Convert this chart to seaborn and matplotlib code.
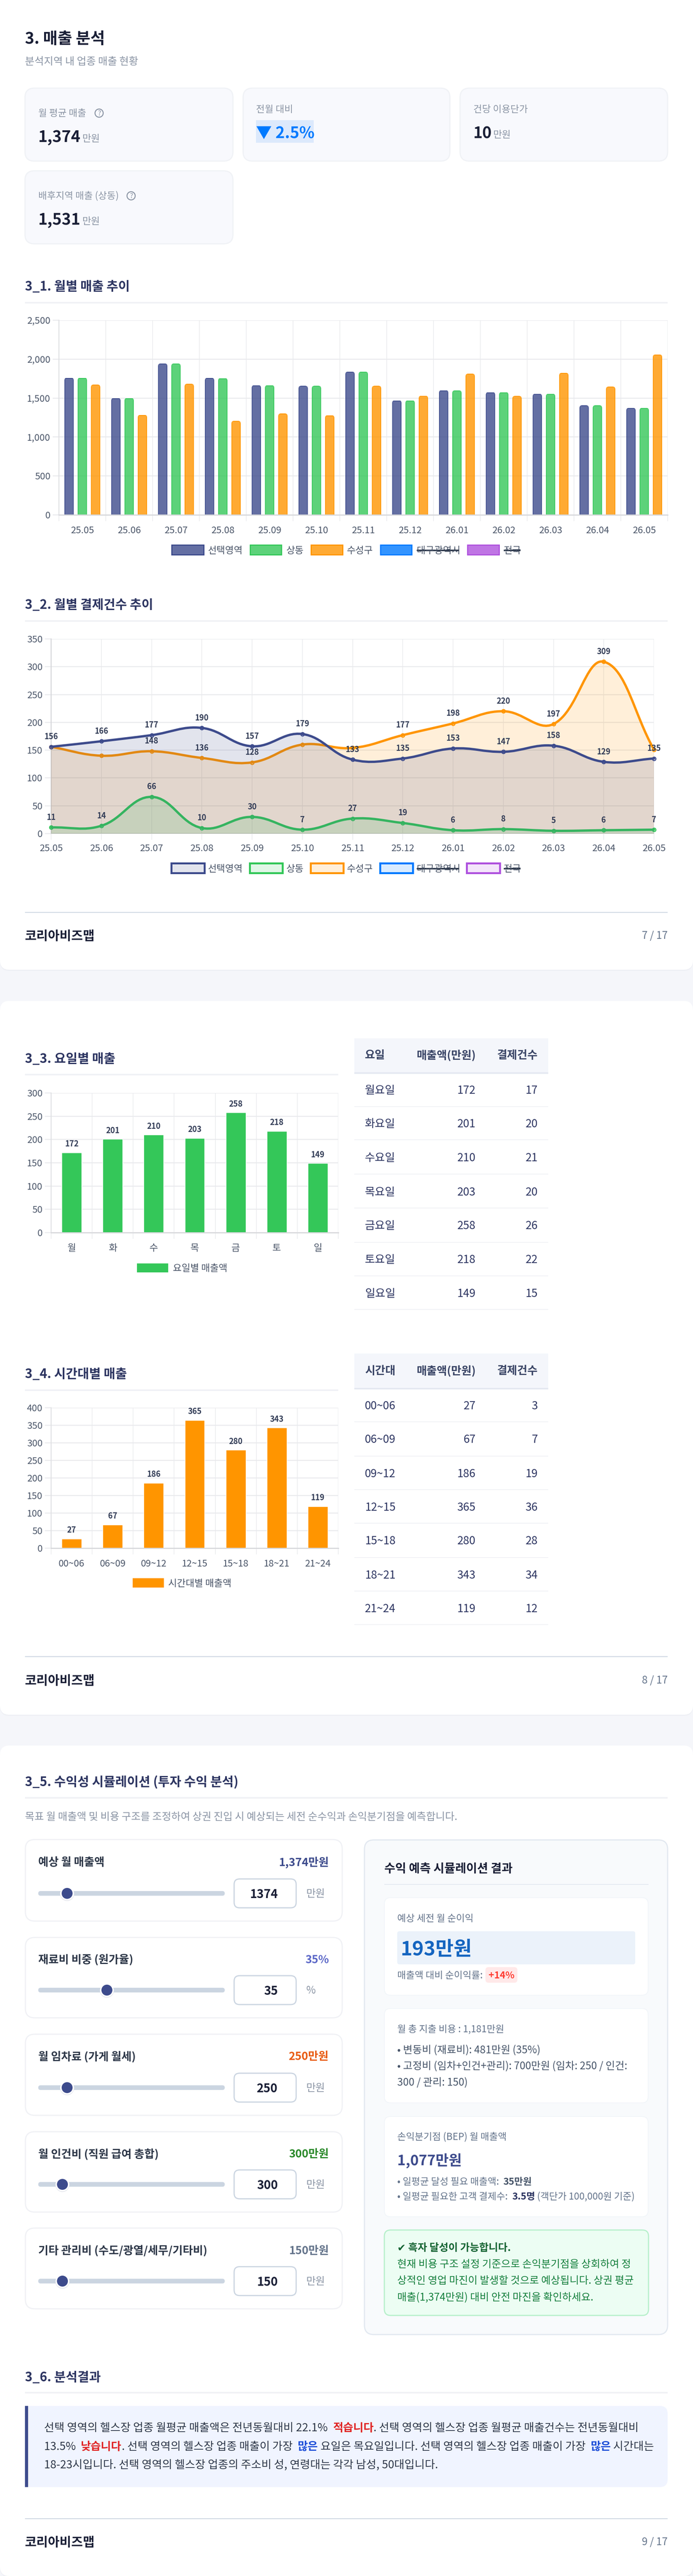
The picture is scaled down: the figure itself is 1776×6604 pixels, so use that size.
import numpy as np
import pandas as pd
import seaborn as sns
import matplotlib
matplotlib.use("Agg")
import matplotlib.pyplot as plt
from matplotlib.colors import to_rgba
from matplotlib.patches import FancyBboxPatch, PathPatch, Rectangle, Circle
from matplotlib.path import Path

# Chart data
months = ["25.05", "25.06", "25.07", "25.08", "25.09", "25.10", "25.11", "25.12", "26.01", "26.02", "26.03", "26.04", "26.05"]
sales_selected = [1756, 1495, 1938, 1754, 1659, 1651, 1833, 1465, 1595, 1570, 1549, 1401, 1368]
sales_sangdong = [1756, 1495, 1938, 1751, 1659, 1651, 1833, 1465, 1592, 1570, 1549, 1401, 1368]
sales_suseong = [1667, 1278, 1677, 1201, 1296, 1273, 1651, 1524, 1807, 1521, 1818, 1641, 2053]
sales_ticks = [0, 500, 1000, 1500, 2000, 2500]

count_selected = [156, 166, 177, 190, 157, 179, 133, 135, 153, 147, 158, 129, 135]
count_sangdong = [11, 14, 66, 10, 30, 7, 27, 19, 6, 8, 5, 6, 7]
count_suseong = [156, 140, 148, 136, 128, 160, 154, 177, 198, 220, 197, 309, 151]
suseong_hidden_labels = [0, 1, 5, 6, 12]
count_ticks = [0, 50, 100, 150, 200, 250, 300, 350]

weekdays = ["월", "화", "수", "목", "금", "토", "일"]
weekday_names = ["월요일", "화요일", "수요일", "목요일", "금요일", "토요일", "일요일"]
weekday_sales = [172, 201, 210, 203, 258, 218, 149]
weekday_counts = [17, 20, 21, 20, 26, 22, 15]
weekday_ticks = [0, 50, 100, 150, 200, 250, 300]

hours = ["00~06", "06~09", "09~12", "12~15", "15~18", "18~21", "21~24"]
hour_sales = [27, 67, 186, 365, 280, 343, 119]
hour_counts = [3, 7, 19, 36, 28, 34, 12]
hour_ticks = [0, 50, 100, 150, 200, 250, 300, 350, 400]

legend_names = ["선택영역", "상동", "수성구", "대구광역시", "전국"]

NAVY = "#3D4B8C"
GREEN = "#34C759"
ORANGE = "#FF9500"
BLUE = "#007AFF"
PURPLE = "#AF52DE"
GRID = "#E9EAED"
TICK = "#4A5568"
DARK = "#1A1F36"
HEAD = "#2D3561"
GRAY = "#8B95A5"
LABEL = "#333D57"

W, H = 1776, 6604
sns.set_theme(style="white")
plt.rcParams["font.family"] = ["Noto Sans CJK KR", "DejaVu Sans"]


def pt(px):
    return px * 0.72


fig = plt.figure(figsize=(W / 100, H / 100), dpi=100, facecolor="#F5F6FA")
page = fig.add_axes([0, 0, 1, 1])
page.set_xlim(0, W)
page.set_ylim(H, 0)
page.axis("off")


def box(x0, y0, x1, y1, fc="white", ec="none", lw=0, r=24, z=1):
    p = FancyBboxPatch((x0, y0), x1 - x0, y1 - y0, boxstyle=f"round,pad=0,rounding_size={r}",
                       fc=fc, ec=ec, lw=pt(lw), zorder=z)
    page.add_patch(p)


def rule(x0, x1, y, color, lw):
    page.add_patch(Rectangle((x0, y - lw / 2), x1 - x0, lw, fc=color, ec="none", zorder=2))


def txt(x, y, s, size, color=DARK, weight="normal", ha="left"):
    return page.text(x, y + size * 0.1, s, fontsize=pt(size) * 1.015, color=color, fontweight=weight, ha=ha, va="center", zorder=5)


def runs(x, y, parts, size):
    # text pieces of different colour on one line
    rend = fig.canvas.get_renderer()
    for s, color, weight in parts:
        t = txt(x, y, s, size, color, weight)
        x = page.transData.inverted().transform(t.get_window_extent(rend).get_points())[1][0]
        # trailing spaces are not in the extent
        x += (len(s) - len(s.rstrip(" "))) * size * 0.224


def section(y_text, y_rule, s, x1=1711):
    txt(64, y_text, s, 32, HEAD, "bold")
    rule(64, x1, y_rule, "#F0F1F5", 4)


def footer(y_rule, y_text, pg):
    rule(64, 1711, y_rule, "#CBD5E1", 2.5)
    txt(64, y_text, "코리아비즈맵", 32, DARK, "bold")
    txt(1711, y_text, pg, 26, "#64748B", ha="right")


def legend_row(y, h, swatches, texts, colors, alpha, lw):
    for i, name in enumerate(legend_names):
        x0, x1 = swatches[i]
        page.add_patch(Rectangle((x0, y - h / 2), x1 - x0, h, fc=to_rgba(colors[i], alpha), ec=colors[i], lw=pt(lw), zorder=3))
        txt(texts[i], y, name, 24, TICK)
        if i >= 3:
            wd = {3: 109, 4: 43}[i]
            rule(texts[i], texts[i] + wd, y + 1, "#2F3A4D", 4)


def help_icon(x, y):
    page.add_patch(Circle((x, y), 10.5, fc="none", ec=GRAY, lw=pt(2.5), zorder=5))
    txt(x, y - 1, "?", 17, GRAY, ha="center")


def chart_axes(x0, y0, x1, y1):
    ax = fig.add_axes([x0 / W, 1 - y1 / H, (x1 - x0) / W, (y1 - y0) / H])
    ax.patch.set_alpha(0)
    return ax


def style_axes(ax, yticks, ylabels=None):
    ax.set_ylim(yticks[0], yticks[-1])
    ax.set_yticks(yticks, ylabels if ylabels else [str(v) for v in yticks])
    ax.set_xlabel("")
    ax.set_ylabel("")
    ax.grid(axis="y", which="major", color=GRID, lw=pt(2.5))
    ax.set_axisbelow(True)
    for s in ["top", "right"]:
        ax.spines[s].set_visible(False)
    ax.spines["left"].set_color("#D5D6DA")
    ax.spines["left"].set_linewidth(pt(2.5))
    ax.spines["bottom"].set_color("#D8D9DC")
    ax.spines["bottom"].set_linewidth(pt(3))
    ax.tick_params(axis="y", length=pt(16), width=pt(2.5), color=GRID, labelsize=pt(24), labelcolor=TICK, pad=pt(6), left=True)


def band_axis(ax, labels):
    n = len(labels)
    ax.set_xlim(-0.5, n - 0.5)
    ax.set_xticks(range(n), labels)
    ax.set_xticks(np.arange(-0.5, n), minor=True)
    ax.grid(axis="x", which="minor", color="#EDEEF0", lw=pt(2))
    ax.spines["left"].set_color("#E0E1E4")
    ax.tick_params(axis="x", which="major", length=0, labelsize=pt(24), labelcolor=TICK, pad=pt(29))
    ax.tick_params(axis="x", which="minor", length=pt(16), width=pt(2), color="#EDEEF0", bottom=True)


def round_tops(ax, r_px):
    # rounded bar tops, by clipping each bar
    inv = ax.transData.inverted()
    o = inv.transform((0, 0))
    dx = inv.transform((r_px, 0))[0] - o[0]
    dy = inv.transform((0, r_px))[1] - o[1]
    for p in ax.patches:
        x, y, w, h = p.get_x(), p.get_y(), p.get_width(), p.get_height()
        e = 0.02 * w
        x0, x1, top = x - e, x + w + e, y + h + dy * 0.2
        verts = [(x0, y - dy * 2), (x0, top - dy), (x0, top), (x0 + dx, top), (x1 - dx, top), (x1, top), (x1, top - dy), (x1, y - dy * 2), (x0, y - dy * 2)]
        codes = [Path.MOVETO, Path.LINETO, Path.CURVE3, Path.CURVE3, Path.LINETO, Path.CURVE3, Path.CURVE3, Path.LINETO, Path.CLOSEPOLY]
        p.set_clip_path(Path(verts, codes), ax.transData)


def bar_chart(box_px, labels, values, color, yticks, lab_off):
    ax = chart_axes(*box_px)
    sns.barplot(x=labels, y=values, color=color, saturation=1, width=0.485, ax=ax, order=labels)
    style_axes(ax, yticks)
    band_axis(ax, labels)
    for i, v in enumerate(values):
        ax.annotate(str(v), (i, v), xytext=(0, pt(lab_off)), textcoords="offset points", ha="center", va="center",
                    fontsize=pt(20), fontweight="bold", color=LABEL)
    return ax


def smooth_path(xs, ys, sx, sy, close=False):
    # bezier through the points, tension 0.4, worked out in pixel space
    pts = np.column_stack([np.array(xs) * sx, np.array(ys) * sy])
    n = len(pts)
    c_in, c_out = np.zeros_like(pts), np.zeros_like(pts)
    for i in range(n):
        prev = pts[max(i - 1, 0)]
        nxt = pts[min(i + 1, n - 1)]
        d01, d12 = np.hypot(*(pts[i] - prev)), np.hypot(*(nxt - pts[i]))
        s = d01 + d12
        c_in[i] = pts[i] - 0.4 * d01 / s * (nxt - prev)
        c_out[i] = pts[i] + 0.4 * d12 / s * (nxt - prev)
    verts = [pts[0]]
    codes = [Path.MOVETO]
    for i in range(n - 1):
        verts += [c_out[i], c_in[i + 1], pts[i + 1]]
        codes += [Path.CURVE4] * 3
    if close:
        verts += [(pts[-1][0], 0), (pts[0][0], 0), pts[0]]
        codes += [Path.LINETO, Path.LINETO, Path.CLOSEPOLY]
    return Path(np.array(verts) / [sx, sy], codes)


# ---------- page backgrounds ----------
for y0, y1 in [(-60, 2486), (2566, 4396), (4475, 6604)]:
    box(0, y0 + 2, W, y1 + 3, fc="#EEF0F5", r=24, z=0)
    box(0, y0, W, y1, fc="white", r=24, z=0.5)

# ---------- page 1 ----------
txt(64, 97, "3. 매출 분석", 40, DARK, "bold")
txt(64, 156, "분석지역 내 업종 매출 현황", 26, GRAY)

cards = [(64, 226, 597, 413), (623, 226, 1153, 413), (1179, 226, 1711, 413), (64, 438, 597, 625)]
for c in cards:
    box(*c, fc="#F8F9FD", ec="#F0F2F6", lw=3)

txt(98, 289, "월 평균 매출", 24, GRAY)
help_icon(254, 290)
txt(98, 349, "1,374", 40, DARK, "bold")
txt(211, 354, "만원", 24.5, GRAY)

page.add_patch(Rectangle((656, 308), 148, 58, fc="#DCE9FC", ec="none", zorder=2))
txt(656, 339, "▼ 2.5%", 40, BLUE, "bold")
txt(656, 279, "전월 대비", 24, GRAY)

txt(1213, 279, "건당 이용단가", 24, GRAY)
txt(1213, 339, "10", 40, DARK, "bold")
txt(1264, 344, "만원", 24.5, GRAY)

txt(98, 501, "배후지역 매출 (상동)", 24, GRAY)
help_icon(336, 502)
txt(98, 561, "1,531", 40, DARK, "bold")
txt(211, 566, "만원", 24.5, GRAY)

# 3_1 monthly sales
section(732, 776, "3_1. 월별 매출 추이")
sales_df = pd.DataFrame({
    "month": months * 3,
    "area": ["선택영역"] * 13 + ["상동"] * 13 + ["수성구"] * 13,
    "sales": sales_selected + sales_sangdong + sales_suseong,
})
ax1 = chart_axes(151, 821, 1711, 1320)
pal = {"선택영역": NAVY, "상동": GREEN, "수성구": ORANGE}
sns.barplot(data=sales_df, x="month", y="sales", hue="area", palette=pal, saturation=1,
            width=0.85, gap=0.33, legend=False, ax=ax1)
style_axes(ax1, sales_ticks, [f"{v:,}" for v in sales_ticks])
band_axis(ax1, months)
for cont, col in zip(ax1.containers, [NAVY, GREEN, ORANGE]):
    for p in cont:
        p.set_facecolor(to_rgba(col, 0.8))
        p.set_edgecolor(col)
        p.set_linewidth(pt(2))
round_tops(ax1, 7)
legend_row(1410, 25, [(440, 522), (641, 721), (797, 878), (975, 1055), (1198, 1279)],
           [533, 734, 889, 1068, 1291], [NAVY, GREEN, ORANGE, BLUE, PURPLE], 0.8, 3)

# 3_2 monthly payment counts
section(1548, 1592, "3_2. 월별 결제건수 추이")
ax2 = chart_axes(131, 1638, 1676, 2137)
style_axes(ax2, count_ticks)
ax2.set_xlim(0, 12)
ax2.set_xticks(range(13), months)
ax2.grid(axis="x", which="major", color="#EDEEF0", lw=pt(2))
ax2.tick_params(axis="x", length=pt(16), width=pt(2), color="#EDEEF0", labelsize=pt(24), labelcolor=TICK, pad=pt(11), bottom=True)
ax2.spines["bottom"].set_color("#DADBDE")
ax2.spines["bottom"].set_linewidth(pt(2))
idx = list(range(13))
sx, sy = 1545 / 12, 499 / 350
for vals, col, z in [(count_suseong, ORANGE, 3), (count_sangdong, GREEN, 4), (count_selected, NAVY, 5)]:
    ax2.add_patch(PathPatch(smooth_path(idx, vals, sx, sy, close=True), fc=to_rgba(col, 0.15), ec="none", zorder=z))
    ax2.add_patch(PathPatch(smooth_path(idx, vals, sx, sy), fc="none", ec=col, lw=pt(6), zorder=z, capstyle="round", clip_on=False))
    sns.scatterplot(x=idx, y=vals, s=42, color=to_rgba(col, 0.15), edgecolor=col, linewidth=pt(2.5), clip_on=False, zorder=z, ax=ax2, legend=False)
ax2.set_ylim(0, 350)
ax2.set_xlim(0, 12)
labels2 = [(i, v) for i, v in enumerate(count_suseong) if i not in suseong_hidden_labels]
labels2 += list(enumerate(count_selected)) + list(enumerate(count_sangdong))
for i, v in labels2:
    ax2.annotate(str(v), (i, v), xytext=(0, pt(26)), textcoords="offset points", ha="center", va="center",
                 fontsize=pt(20), fontweight="bold", color=LABEL, zorder=8, annotation_clip=False)
legend_row(2226, 25, [(439, 524), (640, 724), (796, 880), (974, 1058), (1196, 1281)],
           [533, 734, 889, 1068, 1291], [NAVY, GREEN, ORANGE, BLUE, PURPLE], 0.15, 5)
footer(2339, 2397, "7 / 17")


# ---------- page 2 ----------
def data_table(header_top, header_bot, header_y, head0, first_col, second, third, text_ys, line_ys):
    page.add_patch(Rectangle((908, header_top), 497, header_bot - header_top, fc="#F4F6FB", ec="none", zorder=2))
    rule(908, 1405, header_bot, "#E4E8F1", 4)
    txt(935, header_y, head0, 28, "#3A4566", "bold")
    txt(1219, header_y, "매출액(만원)", 28, "#3A4566", "bold", ha="right")
    txt(1378, header_y, "결제건수", 28, "#3A4566", "bold", ha="right")
    for i in range(7):
        txt(935, text_ys[i], first_col[i], 28, HEAD)
        txt(1219, text_ys[i], str(second[i]), 28, HEAD, ha="right")
        txt(1378, text_ys[i], str(third[i]), 28, HEAD, ha="right")
        rule(908, 1405, line_ys[i], "#F0F1F5", 2.5)


section(2712, 2755, "3_3. 요일별 매출", x1=867)
ax3 = bar_chart((131, 2802, 867, 3160), weekdays, weekday_sales, GREEN, weekday_ticks, 22)
page.add_patch(Rectangle((351, 3239), 80, 23, fc=GREEN, ec="none", zorder=3))
txt(443, 3250, "요일별 매출액", 24, TICK)
data_table(2662, 2751, 2703, "요일", weekday_names, weekday_sales, weekday_counts,
           [2793, 2879, 2966, 3054, 3140, 3227, 3314], [2837, 2922, 3010, 3097, 3185, 3271, 3357])

section(3520, 3564, "3_4. 시간대별 매출", x1=867)
ax4 = bar_chart((131, 3609, 867, 3969), hours, hour_sales, ORANGE, hour_ticks, 22)
page.add_patch(Rectangle((340, 4046), 80, 24, fc=ORANGE, ec="none", zorder=3))
txt(431, 4058, "시간대별 매출액", 24, TICK)
data_table(3470, 3560, 3512, "시간대", hours, hour_sales, hour_counts,
           [3602, 3688, 3776, 3862, 3948, 4036, 4122], [3645, 3733, 3819, 3905, 3993, 4079, 4165])
footer(4247, 4306, "8 / 17")

# ---------- page 3 ----------
section(4566, 4609, "3_5. 수익성 시뮬레이션 (투자 수익 분석)")
txt(64, 4656, "목표 월 매출액 및 비용 구조를 조정하여 상권 진입 시 예상되는 세전 순수익과 손익분기점을 예측합니다.", 26, GRAY)

sliders = [
    (4716, 4925, 4772, 4854, 172, "예상 월 매출액", "1,374만원", NAVY, "1374", "만원"),
    (4967, 5173, 5022, 5102, 274, "재료비 비중 (원가율)", "35%", "#5B67C7", "35", "%"),
    (5215, 5423, 5270, 5352, 172, "월 임차료 (가게 월세)", "250만원", "#E8590C", "250", "만원"),
    (5465, 5671, 5520, 5600, 160, "월 인건비 (직원 급여 총합)", "300만원", "#2B8A2B", "300", "만원"),
    (5712, 5919, 5768, 5848, 160, "기타 관리비 (수도/광열/세무/기타비)", "150만원", "#64748B", "150", "만원"),
]
for top, bot, y_lab, y_sl, thumb, name, val, col, num, unit in sliders:
    box(65, top, 877, bot, fc="white", ec="#F0F1F5", lw=3)
    txt(98, y_lab, name, 28, "#2D3748", "bold")
    txt(843, y_lab, val, 28, col, "bold", ha="right")
    box(98, y_sl - 6, 576, y_sl + 6, fc="#CBD5E1", r=6, z=2)
    page.add_patch(Circle((thumb, y_sl + 1.5), 18, fc="#E6E8EE", ec="none", zorder=3))
    page.add_patch(Circle((thumb, y_sl), 17.5, fc="white", ec="none", zorder=3))
    page.add_patch(Circle((thumb, y_sl), 14, fc=NAVY, ec="none", zorder=4))
    box(600, y_sl - 37, 759, y_sl + 37, fc="white", ec="#CBD5E1", lw=3, r=14, z=2)
    txt(712, y_sl, num, 30, DARK, "bold", ha="right")
    txt(785, y_sl - 1, unit, 26, GRAY)

# result panel
box(934, 4717, 1711, 5985, fc="#F8FAFC", ec="#E2E8F0", lw=3)
txt(985, 4788, "수익 예측 시뮬레이션 결과", 30, DARK, "bold")
rule(985, 1662, 4831, "#E2E8F0", 2)

box(985, 4865, 1661, 5115, fc="white", ec="#F1F5F9", lw=2, r=16, z=2)
txt(1018, 4917, "예상 세전 월 순이익", 24, "#64748B")
box(1018, 4951, 1628, 5036, fc="#EBF2FA", r=6, z=3)
txt(1027, 4994, "193만원", 50, "#1565C0", "bold")
txt(1018, 5063, "매출액 대비 순이익률:", 24, "#64748B")
box(1244, 5043, 1326, 5083, fc="#FFE9E9", r=8, z=3)
txt(1285, 5063, "+14%", 24, "#FF3B30", "bold", ha="center")

box(985, 5149, 1661, 5391, fc="white", ec="#F1F5F9", lw=2, r=16, z=2)
txt(1018, 5201, "월 총 지출 비용 : 1,181만원", 24, "#64748B")
txt(1018, 5253, "• 변동비 (재료비): 481만원 (35%)", 26, "#475569")
txt(1018, 5294, "• 고정비 (임차+인건+관리): 700만원 (임차: 250 / 인건:", 26, "#475569")
txt(1018, 5336, "300 / 관리: 150)", 26, "#475569")

box(985, 5426, 1661, 5683, fc="white", ec="#F1F5F9", lw=2, r=16, z=2)
txt(1018, 5477, "손익분기점 (BEP) 월 매출액", 24, "#64748B")
txt(1018, 5536, "1,077만원", 36, NAVY, "bold")
runs(1018, 5592, [("• 일평균 달성 필요 매출액: ", "#64748B", "normal"), ("35만원", "#475569", "bold")], 24)
runs(1018, 5630, [("• 일평균 필요한 고객 결제수: ", "#64748B", "normal"), ("3.5명", HEAD, "bold"),
                  (" (객단가 100,000원 기준)", "#64748B", "normal")], 24)

box(985, 5717, 1662, 5936, fc="#ECFDF3", ec="#B7F0CB", lw=3, r=16, z=2)
txt(1018, 5761, "✔ 흑자 달성이 가능합니다.", 26, "#166534", "bold")
txt(1018, 5803, "현재 비용 구조 설정 기준으로 손익분기점을 상회하여 정", 26, "#15803D")
txt(1018, 5845, "상적인 영업 마진이 발생할 것으로 예상됩니다. 상권 평균", 26, "#15803D")
txt(1018, 5887, "매출(1,374만원) 대비 안전 마진을 확인하세요.", 26, "#15803D")

# 3_6 analysis
section(6092, 6134, "3_6. 분석결과")
box(64, 6168, 1711, 6376, fc="#F0F4FF", r=20)
page.add_patch(Rectangle((64, 6168), 30, 208, fc="#F0F4FF", ec="none", zorder=1.5))
page.add_patch(Rectangle((64, 6168), 8, 208, fc=NAVY, ec="none", zorder=2))
BODY = "#2D3748"
RED = "#E02424"
INK = "#1D4ED8"
runs(113, 6222, [("선택 영역의 헬스장 업종 월평균 매출액은 전년동월대비 22.1% ", BODY, "normal"), ("적습니다", RED, "bold"),
                 (". 선택 영역의 헬스장 업종 월평균 매출건수는 전년동월대비", BODY, "normal")], 28)
runs(113, 6270, [("13.5% ", BODY, "normal"), ("낮습니다", RED, "bold"), (". 선택 영역의 헬스장 업종 매출이 가장 ", BODY, "normal"),
                 ("많은", INK, "bold"), (" 요일은 목요일입니다. 선택 영역의 헬스장 업종 매출이 가장 ", BODY, "normal"),
                 ("많은", INK, "bold"), (" 시간대는", BODY, "normal")], 28)
runs(113, 6318, [("18-23시입니다. 선택 영역의 헬스장 업종의 주소비 성, 연령대는 각각 남성, 50대입니다.", BODY, "normal")], 28)
footer(6457, 6515, "9 / 17")

fig.savefig("out.png", dpi=100, facecolor=fig.get_facecolor())
